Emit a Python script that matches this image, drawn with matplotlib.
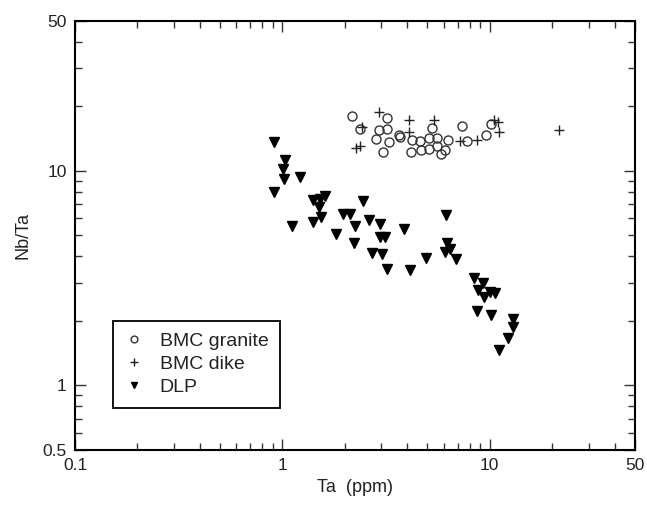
import matplotlib.pyplot as plt
from matplotlib.ticker import FixedLocator, NullFormatter, LogLocator

plt.rcParams['font.family'] = ['Liberation Sans', 'DejaVu Sans']

# BMC granite (open circles)
granite_ta = [2.17, 2.36, 3.20, 2.93, 3.21, 2.83, 3.28, 3.04, 3.67, 3.68, 4.22, 4.17, 4.61,
              4.66, 5.07, 5.07, 5.26, 5.54, 5.58, 5.81, 6.10, 6.32, 7.38, 7.78, 9.55, 10.1]
granite_nbta = [18.1, 15.6, 17.7, 15.5, 15.7, 14.1, 13.6, 12.2, 14.7, 14.4, 13.9, 12.3, 13.8,
                12.5, 14.3, 12.6, 15.9, 14.3, 13.1, 12.0, 12.5, 13.9, 16.2, 13.8, 14.7, 16.5]

# BMC dike (plus)
dike_ta = [2.92, 2.43, 2.27, 2.37, 4.10, 4.10, 5.38, 7.17, 8.64, 10.9, 11.1, 10.5, 21.5]
dike_nbta = [18.8, 16.0, 12.8, 13.0, 17.3, 15.2, 17.3, 13.7, 13.9, 16.8, 15.2, 17.2, 15.5]

# DLP (filled down triangles)
dlp_ta = [0.912, 1.03, 1.01, 1.02, 1.22, 0.912, 1.117, 1.41, 1.52, 1.61, 1.50, 1.54, 1.41,
          1.81, 1.96, 2.11, 2.24, 2.21, 2.44, 2.62, 2.97, 3.86, 2.97, 3.12, 2.71, 3.01, 3.18,
          4.14, 4.91, 6.19, 6.10, 6.41, 6.86, 6.12, 8.40, 9.27, 8.81, 9.41, 10.0, 10.6, 8.68,
          10.1, 12.97, 13.0, 12.3, 11.1]
dlp_nbta = [13.6, 11.2, 10.2, 9.15, 9.35, 7.96, 5.54, 7.33, 7.43, 7.67, 6.77, 6.10, 5.80,
            5.09, 6.26, 6.26, 5.54, 4.62, 7.22, 5.91, 5.66, 5.35, 4.94, 4.94, 4.13, 4.09, 3.48,
            3.46, 3.94, 4.60, 4.18, 4.32, 3.88, 6.24, 3.18, 2.99, 2.78, 2.58, 2.72, 2.69, 2.22,
            2.12, 2.04, 1.87, 1.67, 1.46]

x_ticks = [0.1, 1, 10, 50]
y_ticks = [0.5, 1, 10, 50]

fig = plt.figure(figsize=(6.47, 5.09), dpi=100)
ax = fig.add_axes([0.116, 0.116, 0.865, 0.843])

ax.plot(granite_ta, granite_nbta, 'o', mfc='none', mec='#333333', mew=1.0, ms=6.5,
        label='BMC granite')
ax.plot(dike_ta, dike_nbta, '+', color='#222222', mew=1.0, ms=7, label='BMC dike')
ax.plot(dlp_ta, dlp_nbta, 'v', color='black', ms=6.5, label='DLP')

ax.set_xscale('log')
ax.set_yscale('log')
ax.set_xlim(0.1, 50)
ax.set_ylim(0.5, 50)

ax.xaxis.set_major_locator(FixedLocator(x_ticks))
ax.yaxis.set_major_locator(FixedLocator(y_ticks))
ax.set_xticklabels([str(v) for v in x_ticks])
ax.set_yticklabels([str(v) for v in y_ticks])
ax.xaxis.set_minor_locator(LogLocator(base=10, subs=range(2, 10)))
ax.yaxis.set_minor_locator(LogLocator(base=10, subs=range(2, 10)))
ax.xaxis.set_minor_formatter(NullFormatter())
ax.yaxis.set_minor_formatter(NullFormatter())

ax.tick_params(which='both', direction='in', top=True, right=True, labelsize=12.5,
               width=1.0, color='#333333', labelcolor='#222222')
ax.tick_params(which='major', length=8, pad=6)
ax.tick_params(which='minor', length=5)
for s in ax.spines.values():
    s.set_linewidth(1.5)

ax.set_xlabel('Ta  (ppm)', fontsize=13, labelpad=4, color='#222222')
ax.set_ylabel('Nb/Ta', fontsize=13, labelpad=8, color='#222222')

leg = ax.legend(loc='lower left', bbox_to_anchor=(0.068, 0.098), fontsize=14,
                markerscale=0.75, fancybox=False, edgecolor='black', framealpha=1,
                borderpad=0.6, labelspacing=0.28, handletextpad=0.8, handlelength=1.0,
                borderaxespad=0)
leg.get_frame().set_linewidth(1.3)
for t in leg.get_texts():
    t.set_color('#222222')

fig.savefig('out.png', dpi=100)
